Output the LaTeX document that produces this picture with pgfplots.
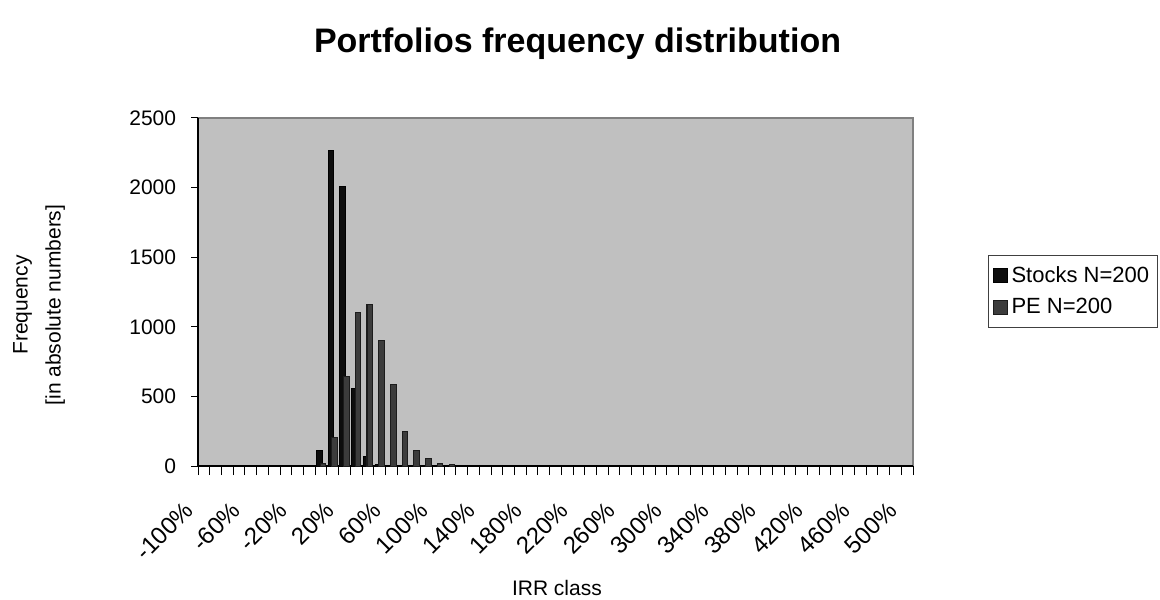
\documentclass[border=0pt]{standalone}
\usepackage{fontspec}
\setmainfont{Liberation Sans}
\usepackage{pgfplots}
\pgfplotsset{compat=1.18}
\definecolor{plotbg}{HTML}{C0C0C0}
\definecolor{plotframe}{HTML}{808080}
\definecolor{stocks}{HTML}{0D0D0D}
\definecolor{pefill}{HTML}{3C3C3C}
\definecolor{pedraw}{HTML}{1C1C1C}
\begin{document}
\begin{tikzpicture}
\path[use as bounding box] (0,0) rectangle (580pt,299.5pt);
\begin{axis}[
    at={(99pt,66.5pt)}, anchor=south west,
    scale only axis,
    width=357.5pt, height=174pt,
    ybar,
    bar width=0.48,
    xmin=-0.5, xmax=60.5,
    ymin=0, ymax=2500,
    ytick={0,500,...,2500},
    xtick={0,4,...,60},
    xticklabels={-100\%,-60\%,-20\%,20\%,60\%,100\%,140\%,180\%,220\%,260\%,300\%,340\%,380\%,420\%,460\%,500\%},
    minor xtick={-0.5,0.5,...,60.5},
    major x tick style={draw=none},
    tick align=outside,
    major tick length=3.5pt,
    minor tick length=4.5pt,
    tick style={black, line width=0.5pt},
    axis x line*=bottom,
    axis y line*=left,
    axis line style={-, black, line width=0.6pt},
    axis background/.style={fill=plotbg, draw=plotframe, line width=0.8pt},
    /pgf/number format/assume math mode=true,
    /pgf/number format/1000 sep={},
    scaled y ticks=false,
    yticklabel style={font=\fontsize{10.5}{12}\selectfont, anchor=east, inner sep=0pt, xshift=-7.25pt},
    xticklabel style={font=\fontsize{12}{14}\selectfont, xshift=-10.4pt, yshift=-13.5pt, rotate=45, anchor=north east, inner sep=0pt},
    title={\bfseries Portfolios frequency distribution},
    title style={font=\fontsize{17}{20}\selectfont, at={(axis description cs:0.5308,1.155)}, anchor=base, inner sep=0pt},
    xlabel={IRR class},
    xlabel style={font=\fontsize{10.5}{12}\selectfont, at={(axis description cs:0.502,-0.3707)}, anchor=base, inner sep=0pt},
    ylabel={Frequency\\[4.5pt]{[in absolute numbers]}},
    ylabel style={font=\fontsize{10.5}{12}\selectfont, align=center, at={(axis description cs:-0.2224,0.4626)}, anchor=center, inner sep=0pt},
    legend cell align=left,
    legend style={at={(axis description cs:1.1049,0.6063)}, anchor=north west,
        font=\fontsize{11}{13}\selectfont, draw=black!75, line width=0.5pt,
        inner xsep=2pt, inner ysep=3.4pt, row sep=2.5pt},
    legend image code/.code={\draw[#1] (0pt,-3.4pt) rectangle (7pt,3.4pt);},
]
\addplot[fill=stocks, draw=black, line width=0.5pt, bar shift=-0.158] coordinates {
    (10,110) (11,2270) (12,2005) (13,555) (14,70) (15,10)
};
\addplot[fill=pefill, draw=pedraw, line width=0.5pt, bar shift=0.158] coordinates {
    (10,20) (11,205) (12,645) (13,1105) (14,1160) (15,900) (16,585) (17,250) (18,110) (19,52) (20,15) (21,12)
};
\legend{Stocks N=200, PE N=200}
\end{axis}
\end{tikzpicture}
\end{document}
